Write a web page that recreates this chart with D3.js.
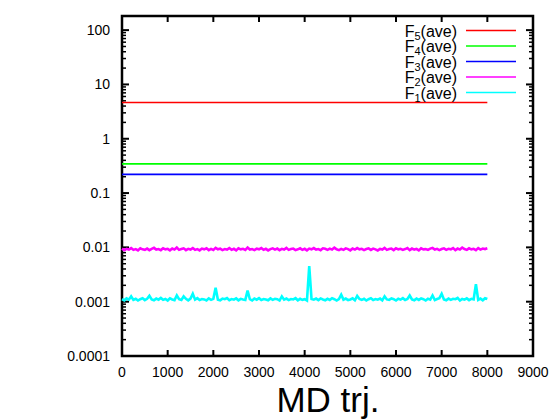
<!DOCTYPE html>
<html>
<head>
<meta charset="utf-8">
<script src="https://cdn.jsdelivr.net/npm/d3@7"></script>
<style>
  body { margin: 0; background: #fff; }
  svg { font-family: "Liberation Sans", Arial, sans-serif; }
</style>
</head>
<body>
<div id="vis"></div>
<script>
// MD trajectory steps sampled every 50
var steps = d3.range(0, 8001, 50);
var flatSteps = [0, 8000];

var xTicks = [0, 1000, 2000, 3000, 4000, 5000, 6000, 7000, 8000, 9000];
var yTicks = [0.0001, 0.001, 0.01, 0.1, 1, 10, 100];
var yTickLabels = ["0.0001", "0.001", "0.01", "0.1", "1", "10", "100"];

var f5 = [4.65, 4.65];
var f4 = [0.345, 0.345];
var f3 = [0.221, 0.221];

var f2 = [0.0095,0.0089,0.0094,0.0091,0.0097,0.0090,0.0093,0.0088,0.0096,0.0092,
0.0090,0.0095,0.0089,0.0094,0.0098,0.0091,0.0093,0.0089,0.0096,0.0092,
0.0094,0.0088,0.0095,0.0091,0.0099,0.0090,0.0093,0.0096,0.0089,0.0094,
0.0091,0.0097,0.0090,0.0093,0.0088,0.0095,0.0092,0.0096,0.0089,0.0094,
0.0090,0.0098,0.0092,0.0095,0.0089,0.0093,0.0091,0.0097,0.0090,0.0094,
0.0088,0.0096,0.0092,0.0094,0.0090,0.0099,0.0091,0.0093,0.0089,0.0095,
0.0092,0.0097,0.0090,0.0094,0.0088,0.0093,0.0096,0.0091,0.0095,0.0089,
0.0094,0.0091,0.0098,0.0090,0.0093,0.0095,0.0089,0.0092,0.0096,0.0090,
0.0094,0.0088,0.0095,0.0092,0.0097,0.0091,0.0093,0.0089,0.0096,0.0094,
0.0090,0.0095,0.0091,0.0099,0.0092,0.0089,0.0094,0.0090,0.0096,0.0093,
0.0088,0.0095,0.0091,0.0097,0.0092,0.0094,0.0089,0.0093,0.0096,0.0090,
0.0095,0.0092,0.0088,0.0094,0.0091,0.0098,0.0090,0.0093,0.0095,0.0089,
0.0096,0.0092,0.0094,0.0090,0.0093,0.0097,0.0089,0.0095,0.0091,0.0094,
0.0088,0.0096,0.0092,0.0093,0.0090,0.0095,0.0098,0.0091,0.0094,0.0089,
0.0093,0.0096,0.0090,0.0094,0.0092,0.0097,0.0089,0.0095,0.0091,0.0099,
0.0093,0.0090,0.0096,0.0092,0.0094,0.0089,0.0097,0.0091,0.0095,0.0093,
0.0096];

var f1 = [0.00112,0.00106,0.00115,0.00109,0.00125,0.00108,0.00113,0.00105,0.00111,0.00116,
0.00107,0.00113,0.00128,0.00110,0.00106,0.00114,0.00109,0.00117,0.00108,0.00112,
0.00105,0.00115,0.00110,0.00107,0.00130,0.00111,0.00108,0.00125,0.00113,0.00106,
0.00114,0.00140,0.00109,0.00116,0.00107,0.00112,0.00110,0.00105,0.00115,0.00108,
0.00113,0.00180,0.00109,0.00106,0.00114,0.00111,0.00117,0.00107,0.00112,0.00109,
0.00115,0.00106,0.00113,0.00110,0.00108,0.00160,0.00111,0.00105,0.00114,0.00109,
0.00116,0.00107,0.00112,0.00110,0.00106,0.00115,0.00108,0.00113,0.00111,0.00105,
0.00125,0.00109,0.00114,0.00107,0.00112,0.00110,0.00116,0.00106,0.00113,0.00108,
0.00111,0.00105,0.00450,0.00112,0.00109,0.00114,0.00107,0.00115,0.00110,0.00106,
0.00113,0.00108,0.00116,0.00111,0.00105,0.00112,0.00135,0.00109,0.00114,0.00107,
0.00110,0.00115,0.00106,0.00128,0.00112,0.00108,0.00113,0.00105,0.00111,0.00116,
0.00107,0.00112,0.00109,0.00114,0.00106,0.00125,0.00110,0.00108,0.00115,0.00111,
0.00105,0.00113,0.00109,0.00116,0.00107,0.00112,0.00130,0.00110,0.00106,0.00114,
0.00108,0.00115,0.00111,0.00105,0.00113,0.00109,0.00130,0.00107,0.00112,0.00116,
0.00140,0.00110,0.00106,0.00114,0.00108,0.00113,0.00111,0.00117,0.00105,0.00112,
0.00109,0.00115,0.00107,0.00113,0.00110,0.00210,0.00108,0.00114,0.00106,0.00116,
0.00112];

var series = [
  {name: "5", xs: flatSteps, ys: f5, color: "#ff0000", w: 1.6},
  {name: "4", xs: flatSteps, ys: f4, color: "#00ff00", w: 1.6},
  {name: "3", xs: flatSteps, ys: f3, color: "#0000ff", w: 1.6},
  {name: "2", xs: steps, ys: f2, color: "#ff00ff", w: 2.6},
  {name: "1", xs: steps, ys: f1, color: "#00ffff", w: 2.6}
];

var W = 560, H = 420;
var L = 122, R = 533, T = 16, B = 356;

var svg = d3.select('#vis').append('svg').attr('width', W).attr('height', H);

var x = d3.scaleLinear().domain([0, 9000]).range([L, R]);
var y = d3.scaleLog().domain([0.0001, 182]).range([B, T]);

// minor log ticks
var minor = [];
for (var e = -4; e <= 2; e++) {
  for (var m = 2; m <= 9; m++) {
    var v = m * Math.pow(10, e);
    if (v < 182) minor.push(v);
  }
}

var g = svg.append('g');

var line = d3.line()
  .x(function(d) { return x(d[0]); })
  .y(function(d) { return y(d[1]); });

series.slice().reverse().forEach(function(s) {
  svg.append('path')
    .datum(s.xs.map(function(v, i) { return [v, s.ys[i]]; }))
    .attr('d', line)
    .attr('fill', 'none')
    .attr('stroke', s.color)
    .attr('stroke-width', s.w)
    .attr('stroke-linejoin', 'miter');
});

// ticks
yTicks.forEach(function(v) {
  g.append('line').attr('x1', L).attr('x2', L + 7).attr('y1', y(v)).attr('y2', y(v))
    .attr('stroke', '#000').attr('stroke-width', 2);
  g.append('line').attr('x1', R).attr('x2', R - 7).attr('y1', y(v)).attr('y2', y(v))
    .attr('stroke', '#000').attr('stroke-width', 2);
});
minor.forEach(function(v) {
  g.append('line').attr('x1', L).attr('x2', L + 4).attr('y1', y(v)).attr('y2', y(v))
    .attr('stroke', '#000').attr('stroke-width', 1.5);
  g.append('line').attr('x1', R).attr('x2', R - 4).attr('y1', y(v)).attr('y2', y(v))
    .attr('stroke', '#000').attr('stroke-width', 1.5);
});
xTicks.forEach(function(v) {
  g.append('line').attr('x1', x(v)).attr('x2', x(v)).attr('y1', B).attr('y2', B - 6)
    .attr('stroke', '#000').attr('stroke-width', 2);
  g.append('line').attr('x1', x(v)).attr('x2', x(v)).attr('y1', T).attr('y2', T + 6)
    .attr('stroke', '#000').attr('stroke-width', 2);
});

// frame
g.append('rect').attr('x', L).attr('y', T).attr('width', R - L).attr('height', B - T)
  .attr('fill', 'none').attr('stroke', '#000').attr('stroke-width', 2.5);

// tick labels
svg.selectAll('text.ylab')
  .data(yTicks).enter().append('text')
  .attr('class', 'ylab')
  .attr('x', 110)
  .attr('y', function(d) { return y(d) + 5; })
  .attr('text-anchor', 'end')
  .attr('font-size', 14)
  .text(function(d, i) { return yTickLabels[i]; });

svg.selectAll('text.xlab')
  .data(xTicks).enter().append('text')
  .attr('class', 'xlab')
  .attr('x', function(d) { return x(d); })
  .attr('y', 377)
  .attr('text-anchor', 'middle')
  .attr('font-size', 14)
  .text(function(d) { return d; });

svg.append('text')
  .attr('x', 328).attr('y', 412)
  .attr('text-anchor', 'middle')
  .attr('font-size', 35)
  .text('MD trj.');

// legend
series.forEach(function(s, i) {
  var ly = 30.5 + i * 15.5;
  var t = svg.append('text')
    .attr('x', 457).attr('y', ly + 6)
    .attr('text-anchor', 'end')
    .attr('font-size', 16);
  t.append('tspan').text('F');
  t.append('tspan').attr('font-size', 11).attr('dy', 3).text(s.name);
  t.append('tspan').attr('dy', -3).text('(ave)');
  svg.append('line')
    .attr('x1', 466).attr('x2', 516).attr('y1', ly).attr('y2', ly)
    .attr('stroke', s.color).attr('stroke-width', 1.6);
});
</script>
</body>
</html>
